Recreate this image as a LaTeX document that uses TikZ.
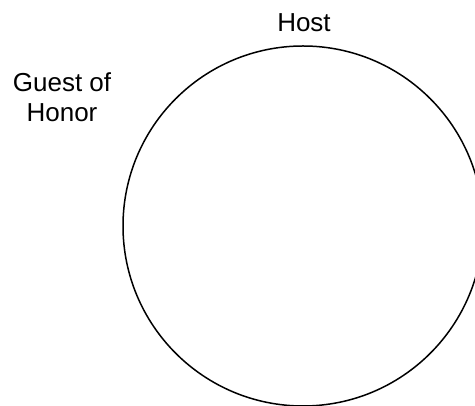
\documentclass[tikz,border=0pt]{standalone}
\usepackage{fontspec}
\setmainfont{Liberation Sans}
\begin{document}
\begin{tikzpicture}[x=1pt,y=1pt,
  lbl/.style={font=\fontsize{26}{30}\selectfont, inner sep=0pt, anchor=base},
  table/.style={draw=black, line width=1.5pt, circle, minimum size=360pt, inner sep=0pt}]
\useasboundingbox (0,0) rectangle (475,406);
\node[table] (tbl) at (303,180) {};
\node[lbl] (host) at (304,374.5) {Host};
\node[lbl] (guest1) at (62,314.5) {Guest of};
\node[lbl] (guest2) at (62,284) {Honor};
\end{tikzpicture}
\end{document}
